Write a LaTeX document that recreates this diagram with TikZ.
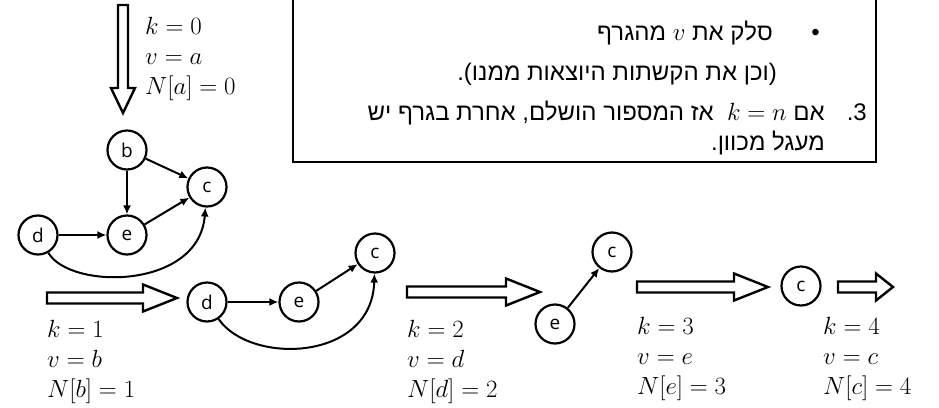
\documentclass[tikz,border=0pt]{standalone}
\usepackage{fontspec}
\newfontfamily\hebfont[Script=Hebrew]{Liberation Sans}
\newfontfamily\vfont{Open Sans}
\usetikzlibrary{arrows.meta}
\TeXXeTstate=1

\tikzset{
  vertex/.style={circle, draw, line width=2.2pt, minimum size=39pt, inner sep=0pt,
    font=\vfont\fontsize{19}{22}\selectfont},
  edge/.style={line width=2pt, -{Latex[length=9pt,width=8pt]}},
  hollow/.style={draw, line width=2.4pt, line join=miter},
  steplabel/.style={anchor=north west, align=left, inner sep=0pt,
    font=\fontsize{25}{30}\selectfont},
  hebtext/.style={anchor=base east, inner sep=0pt,
    font=\hebfont\fontsize{24}{30}\selectfont},
}

% fat hollow arrow pointing right: x start, x tip, y, head length
\newcommand{\fatright}[4]{%
  \draw[hollow] (#1,{#3-5.5}) -- ({#2-#4},{#3-5.5}) -- ({#2-#4},{#3-13.5})
    -- (#2,#3) -- ({#2-#4},{#3+13.5}) -- ({#2-#4},{#3+5.5}) -- (#1,{#3+5.5}) -- cycle;}

\begin{document}
\begin{tikzpicture}[x=1pt, y=-1pt]
  \useasboundingbox (0,0) rectangle (939,407);
  \clip (0,0) rectangle (939,407);

  % --- Algorithm box (cut at the top) ---
  \draw[line width=2.8pt] (293,-20) -- (293,162) -- (876,162) -- (876,-20);
  \node[hebtext] (bullet) at (820,40) {•};
  \node[hebtext] (remove) at (773,40) {\beginR סלק את $v$ מהגרף\endR};
  \node[hebtext] (edgesout) at (777,80) {\beginR(וכן את הקשתות היוצאות ממנו).\endR};
  \node[hebtext] (num) at (867,120) {\beginR 3.\endR};
  \node[hebtext] (done) at (825,120)
    {\beginR אם \beginL$k=n$\endL\ \ אז המספור הושלם, אחרת בגרף יש\endR};
  \node[hebtext] (dircycle) at (825,150) {\beginR מעגל מכוון.\endR};

  % --- Step 0 ---
  \draw[hollow] (118,5) -- (118,88) -- (111,88) -- (123,113) -- (135,88) -- (128,88) -- (128,5) -- cycle;
  \node[steplabel] (s0) at (145,17) {$k=0$\\$v=a$\\$N[a]=0$};

  \node[vertex] (b) at (127,150) {b};
  \node[vertex] (c) at (207,187) {c};
  \node[vertex] (d) at (38,235) {d};
  \node[vertex] (e) at (127,235) {e};
  \draw[edge] (b) -- (c);
  \draw[edge] (b) -- (e);
  \draw[edge] (d) -- (e);
  \draw[edge] (e) -- (c);
  \draw[edge] (d) .. controls (70,290) and (199,290) .. (c);

  % --- Step 1 ---
  \fatright{47}{177}{298}{34}
  \node[steplabel] (s1) at (47,320) {$k=1$\\$v=b$\\$N[b]=1$};

  \node[vertex] (d1) at (207,302) {d};
  \node[vertex] (e1) at (299,302) {e};
  \node[vertex] (c1) at (375,253) {c};
  \draw[edge] (d1) -- (e1);
  \draw[edge] (e1) -- (c1);
  \draw[edge] (d1) .. controls (250,365) and (372,362) .. (c1);

  % --- Step 2 ---
  \fatright{407}{540}{292}{34}
  \node[steplabel] (s2) at (407,320) {$k=2$\\$v=d$\\$N[d]=2$};

  \node[vertex] (e2) at (555,324) {e};
  \node[vertex] (c2) at (612,252) {c};
  \draw[edge] (e2) -- (c2);

  % --- Step 3 ---
  \fatright{637}{768}{287}{34}
  \node[steplabel] (s3) at (637,317) {$k=3$\\$v=e$\\$N[e]=3$};

  \node[vertex] (c3) at (801,286) {c};

  % --- Step 4 ---
  \fatright{838}{893}{287}{17}
  \node[steplabel] (s4) at (823,317) {$k=4$\\$v=c$\\$N[c]=4$};
\end{tikzpicture}
\end{document}
